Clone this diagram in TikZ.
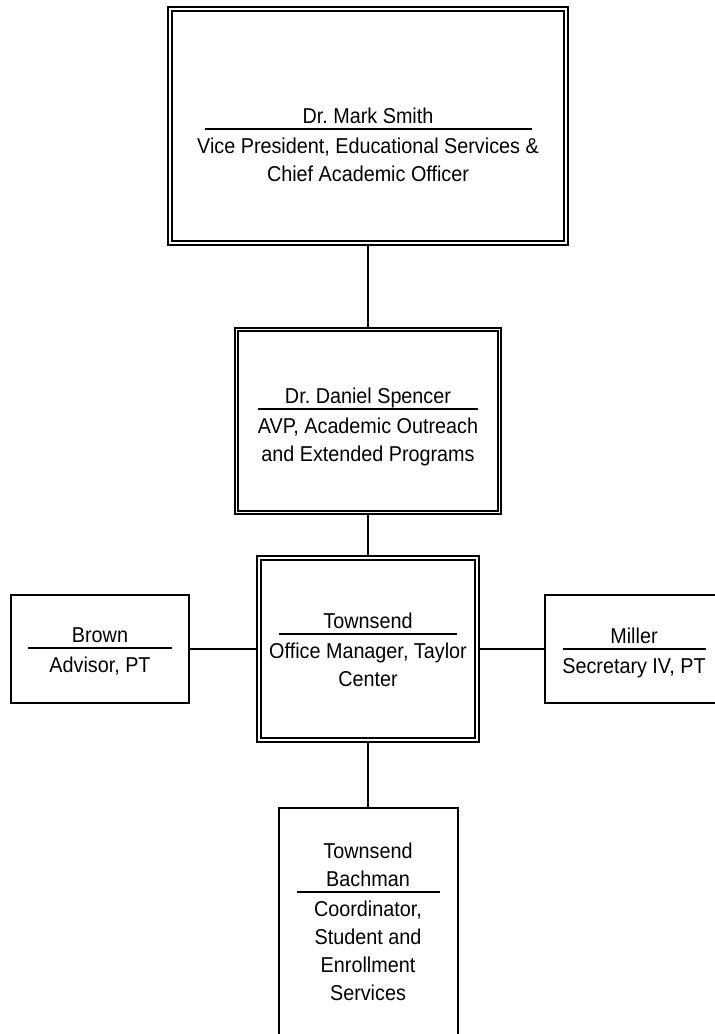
\documentclass[tikz,border=0pt]{standalone}
\usepackage{fontspec}
\setmainfont{Liberation Sans}[FakeStretch=0.92]
\frenchspacing

\newcommand{\orgfont}{\fontsize{21.5}{28}\selectfont}
\newcommand{\namerule}[1]{\\[-21.5pt]\rule{#1}{2pt}\\[-4.5pt]}

\tikzset{
  chief/.style={draw, double, double distance=1.5pt, line width=1.9pt, fill=white, outer sep=2.6pt},
  staff/.style={draw, line width=2pt, fill=white},
  boxtext/.style={anchor=north, align=center, inner sep=0pt, font=\orgfont},
  link/.style={line width=1.9pt}
}

\begin{document}
\begin{tikzpicture}[x=1pt, y=-1pt]
  \useasboundingbox (0,0) rectangle (715,1034);

  % boxes
  \node[chief, minimum width=396pt, minimum height=234pt] (vp) at (368,126) {};
  \node[chief, minimum width=263pt, minimum height=183pt] (avp) at (368,421) {};
  \node[chief, minimum width=218pt, minimum height=182pt] (mgr) at (368,649) {};
  \node[staff, minimum width=178pt, minimum height=108pt] (advisor) at (100,649) {};
  \node[staff, minimum width=178pt, minimum height=108pt] (secretary) at (634,649) {};
  \node[staff, minimum width=179pt, minimum height=260pt] (coord) at (368,938) {};

  % texts
  \node[boxtext] (vp text) at (368,107.5)
    {Dr. Mark Smith\namerule{327pt}Vice President, Educational Services \&\\Chief Academic Officer};
  \node[boxtext] (avp text) at (368,388)
    {Dr. Daniel Spencer\namerule{220pt}AVP, Academic Outreach\\and Extended Programs};
  \node[boxtext] (mgr text) at (368,612.6)
    {Townsend\namerule{178pt}Office Manager, Taylor\\Center};
  \node[boxtext] (advisor text) at (100,627.6)
    {Brown\namerule{144pt}Advisor, PT};
  \node[boxtext] (secretary text) at (634,627.6)
    {Miller\namerule{143pt}Secretary IV, PT};
  \node[boxtext] (coord text) at (368,842.6)
    {Townsend\\Bachman\namerule{143pt}Coordinator,\\Student and\\Enrollment\\Services};

  % lines
  \draw[link] (vp.south) -- (avp.north);
  \draw[link] (avp.south) -- (mgr.north);
  \draw[link] (mgr.west) -- (advisor.east);
  \draw[link] (mgr.east) -- (secretary.west);
  \draw[link] (mgr.south) -- (coord.north);
\end{tikzpicture}
\end{document}
